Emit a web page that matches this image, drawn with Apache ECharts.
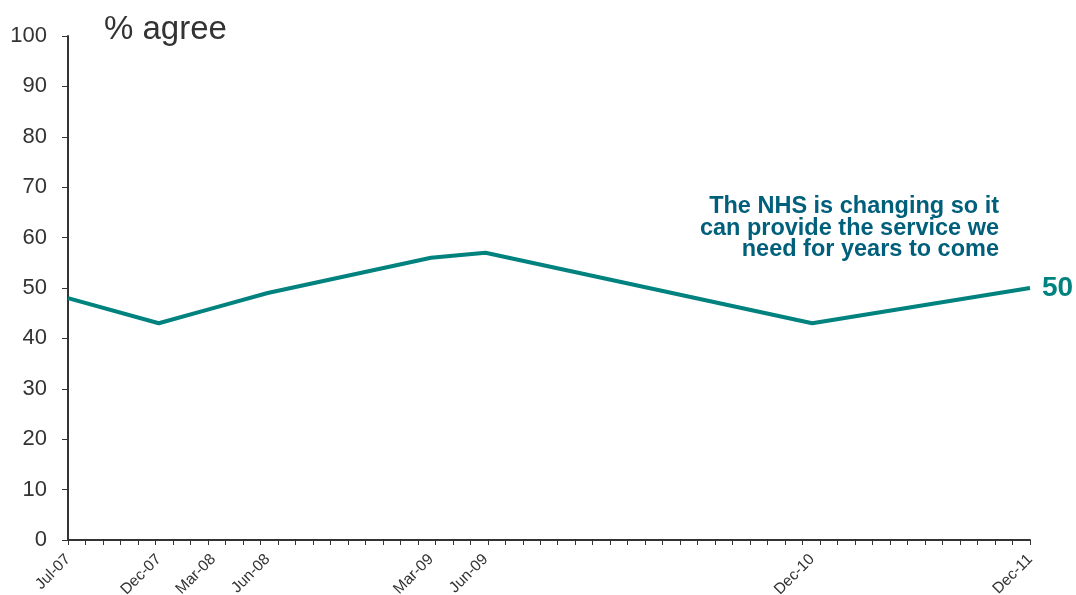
<!DOCTYPE html>
<html><head><meta charset="utf-8">
<script src="https://cdn.jsdelivr.net/npm/echarts@6/dist/echarts.min.js"></script>
<style>html,body{margin:0;padding:0;background:#fff}#c{width:1076px;height:595px}</style>
</head><body><div id="c"></div>
<script>
// months since Jul-07
const monthIndex = [0, 5, 8, 11, 20, 23, 41, 53];
const monthLabels = ['Jul-07', 'Dec-07', 'Mar-08', 'Jun-08', 'Mar-09', 'Jun-09', 'Dec-10', 'Dec-11'];
const agreeValues = [48, 43, 46, 49, 56, 57, 43, 50];
const yTicks = [0, 10, 20, 30, 40, 50, 60, 70, 80, 90, 100];
const seriesName = 'The NHS is changing so it\ncan provide the service we\nneed for years to come';
const titleText = '% agree';
const minorTickCount = 55;

const data = monthIndex.map((m, i) => [m, agreeValues[i]]);
const labelMap = {};
monthIndex.forEach((m, i) => labelMap[m] = monthLabels[i]);

const chart = echarts.init(document.getElementById('c'));
chart.setOption({
  animation: false,
  backgroundColor: '#fff',
  textStyle: { fontFamily: 'Liberation Sans, Arial, sans-serif' },
  title: {
    text: titleText, left: 99, top: 8,
    textStyle: { fontSize: 33, fontWeight: 'normal', color: '#333', fontFamily: 'Liberation Sans, Arial, sans-serif' }
  },
  grid: { left: 68, right: 46, top: 36, bottom: 55, containLabel: false, outerBoundsMode: 'none' },
  xAxis: [{
    type: 'value', min: 0, max: 53,
    axisLine: { show: true, lineStyle: { color: '#333', width: 2 } },
    axisTick: { show: false },
    splitLine: { show: false },
    axisLabel: {
      customValues: monthIndex,
      formatter: v => labelMap[v] || '',
      rotate: 45, fontSize: 15.5, color: '#333', margin: 17,
      fontFamily: 'Liberation Sans, Arial, sans-serif'
    }
  }, {
    type: 'value', min: 0, max: minorTickCount, interval: 1, position: 'bottom',
    axisLine: { show: false },
    axisTick: { show: true, length: 5, lineStyle: { color: '#333', width: 1 } },
    splitLine: { show: false },
    axisLabel: { show: false }
  }],
  yAxis: {
    type: 'value', min: 0, max: 100, interval: 10,
    axisLine: { show: true, lineStyle: { color: '#333', width: 2 } },
    axisTick: { show: true, length: 6, lineStyle: { color: '#333', width: 1 } },
    splitLine: { show: false },
    axisLabel: {
      customValues: yTicks,
      fontSize: 22, color: '#333', margin: 21,
      fontFamily: 'Liberation Sans, Arial, sans-serif'
    }
  },
  graphic: [{
    type: 'text', right: 1076 - 999, top: 195,
    style: {
      text: seriesName, textAlign: 'right',
      font: 'bold 23.5px "Liberation Sans", Arial, sans-serif',
      lineHeight: 21.5, fill: '#005f7a'
    }
  }],
  series: [{
    type: 'line', name: 'agree', data: data, xAxisIndex: 0,
    symbol: 'none', smooth: false,
    lineStyle: { color: '#00827f', width: 4 },
    endLabel: {
      show: true, formatter: p => p.value[1], distance: 12,
      fontSize: 28, fontWeight: 'bold', color: '#00827f',
      fontFamily: 'Liberation Sans, Arial, sans-serif'
    }
  }]
});
</script></body></html>
